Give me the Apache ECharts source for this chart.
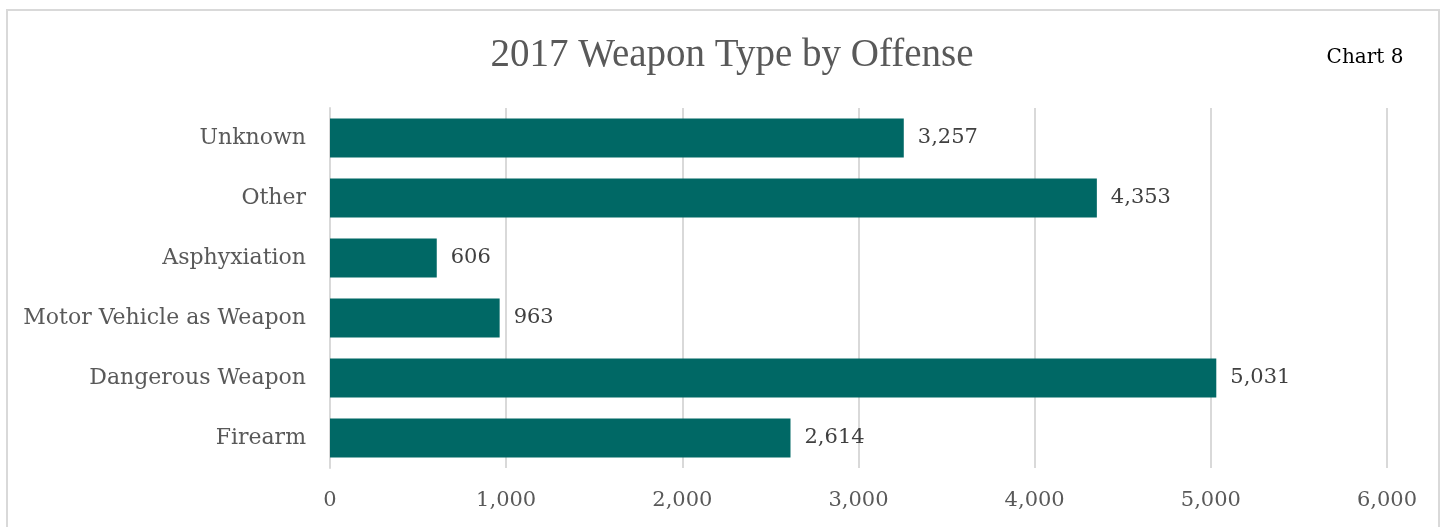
<!DOCTYPE html>
<html>
<head>
<meta charset="utf-8">
<script src="https://cdn.jsdelivr.net/npm/echarts@6/dist/echarts.min.js"></script>
<style>
    html, body { margin: 0; padding: 0; background: #fff; }
    #frame { position: absolute; left: 6px; top: 9px; width: 1434px; height: 530px; border: 2px solid #d9d9d9; box-sizing: border-box; }
    #main { width: 1448px; height: 527px; position: absolute; left: 0; top: 0; }
</style>
</head>
<body>
<div id="frame"></div>
<div id="main"></div>
<script>
    var categories = ['Firearm', 'Dangerous Weapon', 'Motor Vehicle as Weapon', 'Asphyxiation', 'Other', 'Unknown'];
    var counts = [2614, 5031, 963, 606, 4353, 3257];
    var ticks = [0, 1000, 2000, 3000, 4000, 5000, 6000];

    var serif = '"DejaVu Serif", "Liberation Serif", serif';

    (function (charts) {
        charts.setOption({
            animation: false,
            title: [{
                text: '2017 Weapon Type by Offense',
                left: 727,
                textAlign: 'center',
                top: 31,
                textStyle: {
                    fontFamily: '"Liberation Serif", serif',
                    fontSize: 39,
                    fontWeight: 'normal',
                    color: '#595959'
                }
            }, {
                text: 'Chart 8',
                left: 1360,
                textAlign: 'center',
                top: 43,
                textStyle: {
                    fontFamily: serif,
                    fontSize: 20,
                    fontWeight: 'normal',
                    color: '#000'
                }
            }],
            grid: {
                left: 330,
                right: 61,
                top: 108,
                bottom: 59
            },
            xAxis: {
                type: 'value',
                min: ticks[0],
                max: ticks[ticks.length - 1],
                interval: 1000,
                axisLine: { show: false },
                axisTick: { show: false },
                splitLine: { lineStyle: { color: '#d9d9d9', width: 2 } },
                axisLabel: {
                    margin: 22,
                    fontFamily: serif,
                    fontSize: 21,
                    color: '#595959',
                    formatter: function (v) { return v.toLocaleString('en-US'); }
                }
            },
            yAxis: {
                type: 'category',
                data: categories,
                axisLine: { show: true, lineStyle: { color: '#d9d9d9', width: 2 } },
                axisTick: { show: false },
                axisLabel: {
                    margin: 24,
                    fontFamily: serif,
                    fontSize: 22,
                    color: '#595959'
                }
            },
            series: [{
                type: 'bar',
                data: counts,
                barCategoryGap: '35%',
                itemStyle: { color: '#006865' },
                label: {
                    show: true,
                    position: 'right',
                    distance: 14,
                    fontFamily: serif,
                    fontSize: 21,
                    color: '#404040',
                    formatter: function (p) { return p.value.toLocaleString('en-US'); }
                }
            }]
        });
    })(echarts.init(document.getElementById('main')));
</script>
</body>
</html>
